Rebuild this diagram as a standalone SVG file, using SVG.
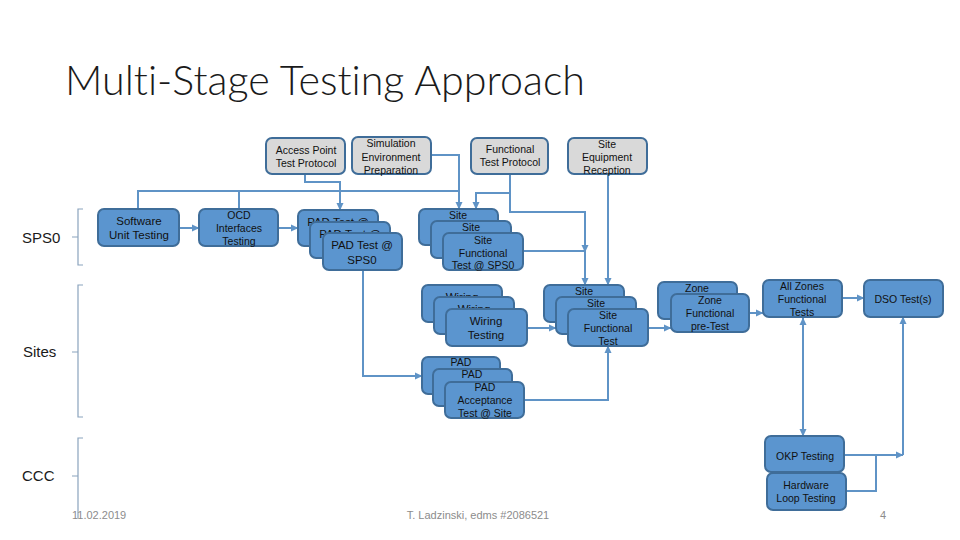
<svg xmlns="http://www.w3.org/2000/svg" width="960" height="540" viewBox="0 0 960 540">
<defs>
<marker id="ah" markerWidth="8" markerHeight="8" refX="7" refY="4" orient="auto" markerUnits="userSpaceOnUse"><path d="M0,0.5 L7.5,4 L0,7.5 z" fill="#5f93c6"/></marker>
<marker id="ahs" markerWidth="8" markerHeight="8" refX="7" refY="4" orient="auto-start-reverse" markerUnits="userSpaceOnUse"><path d="M0,0.5 L7.5,4 L0,7.5 z" fill="#5f93c6"/></marker>
<style>
.b{fill:#5b95cf;stroke:#3f6d99;stroke-width:2}
.g{fill:#d9d9d9;stroke:#3f6d99;stroke-width:2}
.t{font-family:"Liberation Sans",Arial,sans-serif;font-size:10.5px;fill:#111;text-anchor:middle}
.tl{font-size:11.5px}
.c{fill:none;stroke:#5f93c6;stroke-width:2}
.a{marker-end:url(#ah)}
.br{fill:none;stroke:#8aa3bd;stroke-width:1.2}
.lab{font-family:"Liberation Sans",Arial,sans-serif;font-size:15px;fill:#1a1a1a}
.f{font-family:"Liberation Sans",Arial,sans-serif;font-size:11px;fill:#8c8c8c}
.title{font-family:Lato,"Open Sans","Liberation Sans",sans-serif;font-weight:300;font-size:42px;fill:#1a1a1a;font-variant-ligatures:none;font-feature-settings:"liga" 0}
</style>
</defs>
<rect width="960" height="540" fill="#fff"/>
<text class="title" x="65" y="95" textLength="520" lengthAdjust="spacingAndGlyphs">Multi-Stage Testing Approach</text>

<g id="brackets">
<path class="br" d="M83,209 H78 V265 H83 M78,237 H72"/>
<path class="br" d="M83,285 H78 V417 H83 M78,352 H72"/>
<path class="br" d="M83,438 H78 V518 M78,476 H72"/>
</g>
<text class="lab" x="22" y="243">SPS0</text>
<text class="lab" x="23" y="357">Sites</text>
<text class="lab" x="22" y="481">CCC</text>

<g id="connectors">
<path class="c" d="M138,209 V191 H459 M239,191 V209"/>
<path class="c a" d="M431,155 H459 V209"/>
<path class="c a" d="M305,174 V182 H340 V210"/>
<path class="c a" d="M510,174 V193 H476 V209"/>
<path class="c a" d="M510,193 V212 H585 V285"/>
<path class="c a" d="M523,251 H585 V252"/>
<path class="c a" d="M608,174 V285"/>
<path class="c a" d="M179,228 H199"/>
<path class="c a" d="M278,228 H298"/>
<path class="c a" d="M363,270 V376 H422"/>
<path class="c a" d="M527,328 H556"/>
<path class="c a" d="M524,400 H608 V346"/>
<path class="c a" d="M648,328 H671"/>
<path class="c a" d="M749,313 H763"/>
<path class="c a" d="M842,298 H864"/>
<path class="c a" d="M803,318 V436" marker-start="url(#ahs)"/>
<path class="c a" d="M844,455 H903"/>
<path class="c a" d="M903,455 V317"/>
<path class="c" d="M846,491 H876 V455"/>
</g>

<g id="access-point"><rect class="g" x="266" y="138" width="79" height="36" rx="6"/><text class="t" x="306" y="154">Access Point</text><text class="t" x="306" y="167">Test Protocol</text></g>
<g id="simulation"><rect class="g" x="352" y="137" width="79" height="37" rx="6"/><text class="t" x="391" y="147">Simulation</text><text class="t" x="391" y="161">Environment</text><text class="t" x="391" y="174">Preparation</text></g>
<g id="functional-protocol"><rect class="g" x="471" y="138" width="77" height="36" rx="6"/><text class="t" x="510" y="153">Functional</text><text class="t" x="510" y="166">Test Protocol</text></g>
<g id="site-equipment"><rect class="g" x="568" y="138" width="79" height="36" rx="6"/><text class="t" x="607" y="148">Site</text><text class="t" x="607" y="161">Equipment</text><text class="t" x="607" y="174">Reception</text></g>

<g id="software"><rect class="b" x="98" y="209" width="81" height="37" rx="6"/><text class="t tl" x="139" y="225">Software</text><text class="t tl" x="139" y="239">Unit Testing</text></g>
<g id="ocd"><rect class="b" x="199" y="209" width="79" height="37" rx="6"/><text class="t" x="239" y="219">OCD</text><text class="t" x="239" y="232">Interfaces</text><text class="t" x="239" y="245">Testing</text></g>

<g id="pad-sps0">
<rect class="b" x="298" y="210" width="80" height="36" rx="6"/><text class="t tl" x="338" y="226">PAD Test @</text>
<rect class="b" x="310" y="222" width="80" height="36" rx="6"/><text class="t tl" x="350" y="238">PAD Test @</text>
<rect class="b" x="323" y="233" width="79" height="37" rx="6"/><text class="t tl" x="362" y="249">PAD Test @</text><text class="t tl" x="362" y="264">SPS0</text>
</g>

<g id="site-sps0">
<rect class="b" x="419" y="209" width="79" height="36" rx="6"/><text class="t" x="458" y="219">Site</text>
<rect class="b" x="431" y="221" width="80" height="37" rx="6"/><text class="t" x="471" y="231">Site</text>
<rect class="b" x="443" y="233" width="80" height="37" rx="6"/><text class="t" x="483" y="244">Site</text><text class="t" x="483" y="257">Functional</text><text class="t" x="483" y="269">Test @ SPS0</text>
</g>

<g id="wiring">
<rect class="b" x="422" y="285" width="80" height="37" rx="6"/><text class="t tl" x="462" y="301">Wiring</text>
<rect class="b" x="434" y="297" width="80" height="37" rx="6"/><text class="t tl" x="474" y="313">Wiring</text>
<rect class="b" x="446" y="309" width="81" height="37" rx="6"/><text class="t tl" x="486" y="325">Wiring</text><text class="t tl" x="486" y="339">Testing</text>
</g>

<g id="pad-site">
<rect class="b" x="422" y="357" width="78" height="37" rx="6"/><text class="t" x="461" y="366">PAD</text>
<rect class="b" x="433" y="369" width="79" height="37" rx="6"/><text class="t" x="472" y="378">PAD</text>
<rect class="b" x="445" y="382" width="79" height="36" rx="6"/><text class="t" x="485" y="391">PAD</text><text class="t" x="485" y="404">Acceptance</text><text class="t" x="485" y="417">Test @ Site</text>
</g>

<g id="site-func">
<rect class="b" x="544" y="285" width="80" height="37" rx="6"/><text class="t" x="584" y="295">Site</text>
<rect class="b" x="556" y="297" width="80" height="37" rx="6"/><text class="t" x="596" y="307">Site</text>
<rect class="b" x="568" y="309" width="80" height="37" rx="6"/><text class="t" x="608" y="319">Site</text><text class="t" x="608" y="332">Functional</text><text class="t" x="608" y="345">Test</text>
</g>

<g id="zone">
<rect class="b" x="658" y="282" width="79" height="37" rx="6"/><text class="t" x="697" y="292">Zone</text>
<rect class="b" x="671" y="294" width="78" height="38" rx="6"/><text class="t" x="710" y="304">Zone</text><text class="t" x="710" y="317">Functional</text><text class="t" x="710" y="330">pre-Test</text>
</g>

<g id="all-zones"><rect class="b" x="763" y="280" width="79" height="37" rx="6"/><text class="t" x="802" y="290">All Zones</text><text class="t" x="802" y="303">Functional</text><text class="t" x="802" y="316">Tests</text></g>
<g id="dso"><rect class="b" x="864" y="280" width="79" height="37" rx="6"/><text class="t" x="903" y="303">DSO Test(s)</text></g>
<g id="okp"><rect class="b" x="765" y="436" width="79" height="36" rx="6"/><text class="t" x="805" y="460">OKP Testing</text></g>
<g id="hwloop"><rect class="b" x="767" y="473" width="79" height="37" rx="6"/><text class="t" x="806" y="489">Hardware</text><text class="t" x="806" y="502">Loop Testing</text></g>

<text class="f" x="72" y="519">11.02.2019</text>
<text class="f" x="478" y="519" text-anchor="middle">T. Ladzinski, edms #2086521</text>
<text class="f" x="880" y="519">4</text>
</svg>
